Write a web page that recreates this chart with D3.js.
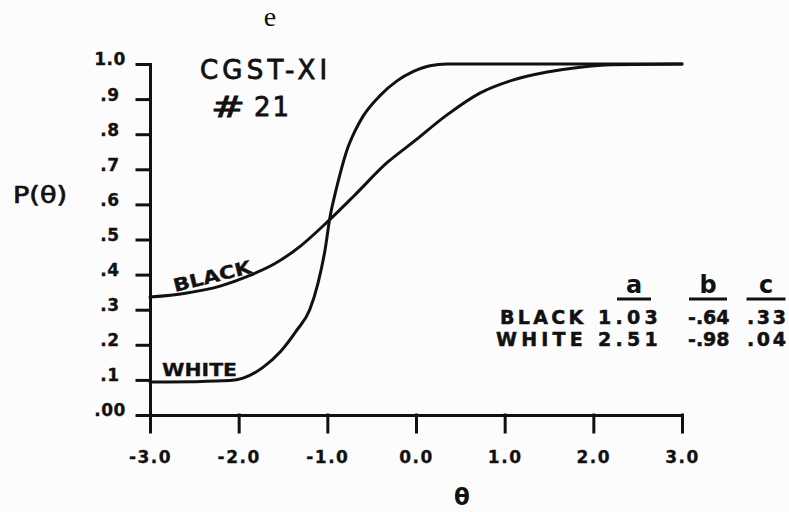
<!DOCTYPE html>
<html>
<head>
<meta charset="utf-8">
<script src="https://cdn.jsdelivr.net/npm/d3@7"></script>
<style>
  html, body { margin: 0; padding: 0; background: #fcfcfc; }
  svg { display: block; }
</style>
</head>
<body>
<script>
// Item characteristic curves, CGST-XI item #21
const thetaTicks = [-3, -2, -1, 0, 1, 2, 3];
const thetaTickLabels = ["-3.0", "-2.0", "-1.0", "0.0", "1.0", "2.0", "3.0"];
const probTicks = [0, 0.1, 0.2, 0.3, 0.4, 0.5, 0.6, 0.7, 0.8, 0.9, 1.0];
const probTickLabels = [".00", ".1", ".2", ".3", ".4", ".5", ".6", ".7", ".8", ".9", "1.0"];

// Black group curve: ability (theta) and probability of a correct answer
const blackTheta = [-3.0, -2.6, -2.2, -1.9, -1.6, -1.3, -1.0, -0.7, -0.33, -0.03, 0.35, 0.72, 1.09, 1.48, 1.85, 2.2, 3.0];
const blackP     = [0.336, 0.347, 0.368, 0.395, 0.430, 0.482, 0.550, 0.624, 0.718, 0.778, 0.855, 0.917, 0.954, 0.977, 0.991, 0.998, 1.0];

// White group curve
const whiteTheta = [-3.0, -2.5, -2.1, -1.95, -1.73, -1.53, -1.34, -1.2, -1.105, -1.026, -0.97, -0.902, -0.835, -0.778, -0.69, -0.6, -0.406, -0.214, -0.034, 0.158, 0.35, 3.0];
const whiteP     = [0.094, 0.095, 0.098, 0.105, 0.135, 0.180, 0.243, 0.299, 0.376, 0.470, 0.564, 0.641, 0.707, 0.755, 0.808, 0.850, 0.910, 0.952, 0.978, 0.995, 1.0, 1.0];

// Item parameter table
const groups = ["BLACK", "WHITE"];
const paramNames = ["a", "b", "c"];
const paramA = ["1.03", "2.51"];
const paramB = ["-.64", "-.98"];
const paramC = [".33", ".04"];

const W = 789, H = 512;
const ink = "#111";
const sans = "'DejaVu Sans', sans-serif";
const svg = d3.select("body").append("svg")
  .attr("width", W).attr("height", H)
  .style("background", "#fcfcfc");

const x = d3.scaleLinear().domain([-3, 3]).range([150, 682]);
const y = d3.scaleLinear().domain([0, 1]).range([415, 64]);

// Page mark above the figure
svg.append("text")
  .attr("x", 270).attr("y", 26)
  .attr("text-anchor", "middle")
  .attr("font-family", "'Liberation Serif', 'DejaVu Serif', serif")
  .attr("font-size", 28)
  .attr("fill", ink)
  .text("e");

// Y axis
const yAxis = svg.append("g")
  .attr("transform", `translate(${x(-3)},0)`)
  .call(d3.axisLeft(y).tickValues(probTicks)
    .tickFormat((d, i) => probTickLabels[i])
    .tickSize(13).tickSizeOuter(0));

// X axis
const xAxis = svg.append("g")
  .attr("transform", `translate(0,${y(0)})`)
  .call(d3.axisBottom(x).tickValues(thetaTicks)
    .tickFormat((d, i) => thetaTickLabels[i])
    .tickSize(17).tickSizeOuter(0));

[yAxis, xAxis].forEach(g => {
  g.selectAll("path, line")
    .attr("stroke", ink).attr("stroke-width", 3)
    .attr("stroke-linecap", "square");
  g.selectAll("text")
    .attr("fill", ink)
    .attr("stroke", ink).attr("stroke-width", 0.3)
    .attr("font-family", sans)
    .attr("font-weight", "bold")
    .attr("font-size", 17);
});

yAxis.selectAll("text")
  .attr("x", -40).attr("y", -5)
  .attr("text-anchor", "middle")
  .attr("dy", "0.35em")
  .attr("letter-spacing", 0.5);

xAxis.selectAll("text")
  .attr("y", 48).attr("dy", 0)
  .attr("letter-spacing", 1.5);

// Axis titles
svg.append("text")
  .attr("x", 13).attr("y", 203)
  .attr("font-family", sans)
  .attr("font-size", 23)
  .attr("textLength", 54).attr("lengthAdjust", "spacingAndGlyphs")
  .attr("fill", ink).attr("stroke", ink).attr("stroke-width", 0.7)
  .text("P(θ)");

svg.append("text")
  .attr("x", 462).attr("y", 505)
  .attr("text-anchor", "middle")
  .attr("font-family", sans)
  .attr("font-weight", "bold")
  .attr("font-size", 23)
  .attr("fill", ink)
  .text("θ");

// Title
const titleFont = t => t
  .attr("font-family", sans)
  .attr("font-size", 26)
  .attr("fill", ink).attr("stroke", ink).attr("stroke-width", 0.8);

svg.append("text").call(titleFont)
  .attr("x", 200).attr("y", 79)
  .attr("letter-spacing", 4.2)
  .text("CGST-XI");

svg.append("text").call(titleFont)
  .attr("x", 211).attr("y", 117)
  .attr("font-size", 28)
  .attr("textLength", 34).attr("lengthAdjust", "spacingAndGlyphs")
  .text("#");

svg.append("text").call(titleFont)
  .attr("x", 254).attr("y", 116)
  .attr("letter-spacing", 2)
  .text("21");

// Curves
const line = d3.line()
  .x(d => x(d[0]))
  .y(d => y(d[1]))
  .curve(d3.curveMonotoneX);

const curves = [
  d3.zip(blackTheta, blackP),
  d3.zip(whiteTheta, whiteP)
];

svg.append("g").selectAll("path")
  .data(curves)
  .join("path")
  .attr("d", line)
  .attr("fill", "none")
  .attr("stroke", ink)
  .attr("stroke-width", 3)
  .attr("stroke-linejoin", "round")
  .attr("stroke-linecap", "round");

// Curve labels
const labelFont = g => g
  .attr("font-family", sans)
  .attr("font-weight", "bold")
  .attr("font-size", 18)
  .attr("fill", ink)
  .attr("stroke", ink).attr("stroke-width", 0.3)
  .attr("lengthAdjust", "spacingAndGlyphs");

svg.append("text")
  .call(labelFont)
  .attr("textLength", 80)
  .attr("transform", "translate(175,292) rotate(-14)")
  .text(groups[0]);

svg.append("text")
  .call(labelFont)
  .attr("textLength", 75)
  .attr("x", 162).attr("y", 376)
  .text(groups[1]);

// Parameter table
const headCX = [634, 708, 766];
const headW = [34, 38, 39];
const head = svg.append("g");
paramNames.forEach((p, i) => {
  head.append("text")
    .attr("x", headCX[i]).attr("y", 293)
    .attr("text-anchor", "middle")
    .attr("font-family", sans)
    .attr("font-weight", "bold")
    .attr("font-size", 24)
    .attr("fill", ink)
    .text(p);
  head.append("line")
    .attr("x1", headCX[i] - headW[i] / 2).attr("x2", headCX[i] + headW[i] / 2)
    .attr("y1", 299).attr("y2", 299)
    .attr("stroke", ink).attr("stroke-width", 3);
});

const rowY = [324, 346];
const nameX = [500, 496];
const nameSpacing = [3.3, 4.2];
const colX = [598, 688, 747];
const colSpacing = [4.3, 0, 2.6];
const cellFont = g => g
  .attr("font-family", sans)
  .attr("font-weight", "bold")
  .attr("font-size", 19)
  .attr("fill", ink)
  .attr("stroke", ink).attr("stroke-width", 0.5);

groups.forEach((g, r) => {
  svg.append("text").call(cellFont)
    .attr("x", nameX[r]).attr("y", rowY[r])
    .attr("letter-spacing", nameSpacing[r])
    .text(g);
  [paramA[r], paramB[r], paramC[r]].forEach((v, i) => {
    svg.append("text").call(cellFont)
      .attr("x", colX[i]).attr("y", rowY[r])
      .attr("letter-spacing", colSpacing[i])
      .text(v);
  });
});
</script>
</body>
</html>
